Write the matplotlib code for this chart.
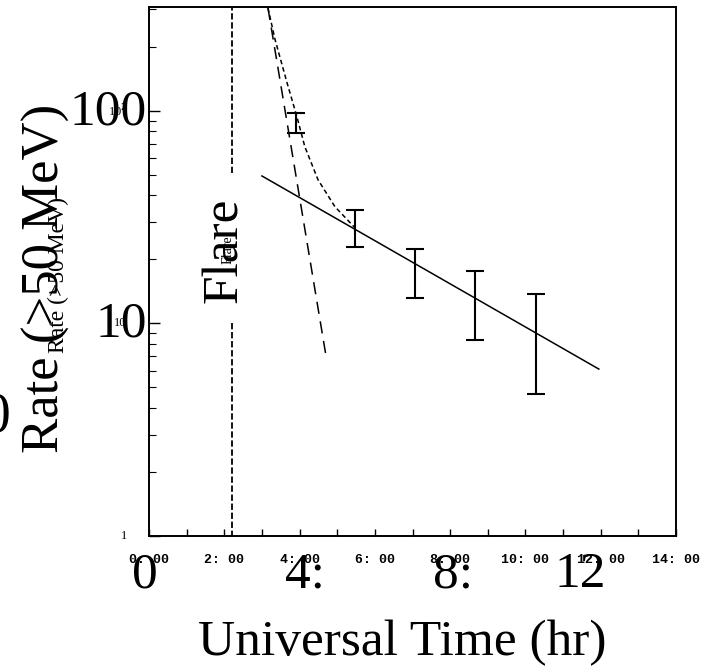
import numpy as np
import matplotlib
matplotlib.use("Agg")
import matplotlib.pyplot as plt
import matplotlib.transforms as mtransforms

# observed proton rates (>50 MeV), Universal Time in hours
obs_time = [3.91, 5.48, 7.07, 8.67, 10.29]
obs_rate = [88.0, 27.9, 18.9, 13.0, 9.1]
obs_low = [79.0, 23.0, 13.2, 8.4, 4.65]
obs_high = [98.0, 34.3, 22.5, 17.7, 13.8]

# slow (solid) decay fit
slow_time = [3.0, 11.95]
slow_rate = [49.4, 6.1]

# fast (long dash) decay component
fast_time = [3.16, 4.71]
fast_rate = [305.0, 6.9]

# sum of both components (short dash)
sum_time = [3.16, 3.35, 3.67, 3.93, 4.14, 4.49, 4.94, 5.47]
sum_rate = [305.0, 216.0, 135.0, 93.7, 67.8, 47.4, 35.4, 28.2]

# flare onset marker (dashed vertical, broken around the label)
flare_time = 2.2
flare_upper = [51.0, 320.0]
flare_lower = [0.9, 10.1]

xtick_hours = list(range(0, 15))
xtick_text = ["%d: 00" % h if h % 2 == 0 else "" for h in xtick_hours]
big_xlabels = ["0", "4:", "8:", "12"]
big_xpos = [-0.1, 4.15, 8.07, 11.45]
big_ylabels = ["100", "10"]
big_yvals = [100, 10]
small_ylabels = ["1", "10", "10$^2$"]
small_yvals = [1, 10, 100]

serif = "Liberation Serif"
mono = "Liberation Mono"

fig = plt.figure(figsize=(7.25, 6.66), dpi=100)
ax = fig.add_axes([149 / 725, 1 - 536 / 666, 527 / 725, 529 / 666])
ax.set_yscale("log")
ax.set_xlim(0, 14)
ax.set_ylim(1, 308)

ax.plot([flare_time, flare_time], flare_upper, color="black", lw=1.3, dashes=(3.5, 1.5))
ax.plot([flare_time, flare_time], flare_lower, color="black", lw=1.3, dashes=(3.5, 1.5))

ax.plot(slow_time, slow_rate, color="black", lw=1.1)
ax.plot(fast_time, fast_rate, color="black", lw=1.1, dashes=(8, 5))
ax.plot(sum_time, sum_rate, color="black", lw=1.1, dashes=(3, 2))

yerr = [np.array(obs_rate) - np.array(obs_low), np.array(obs_high) - np.array(obs_rate)]
ax.errorbar(obs_time, obs_rate, yerr=yerr, fmt="none", ecolor="black",
            elinewidth=1.5, capsize=6.5, capthick=1.5)

for s in ax.spines.values():
    s.set_linewidth(1.4)

ax.set_xticks(xtick_hours)
ax.set_xticklabels(xtick_text, fontfamily=mono, fontweight="bold", fontsize=9.5)
ax.tick_params(axis="x", direction="in", length=5, width=1, pad=13, top=False)
ax.tick_params(axis="y", which="major", direction="in", length=8, width=1, right=False)
ax.tick_params(axis="y", which="minor", direction="in", length=5, width=0.8, right=False)
ax.yaxis.set_minor_formatter(matplotlib.ticker.NullFormatter())
ax.yaxis.set_major_formatter(matplotlib.ticker.NullFormatter())

# small labels from the original scan
for lab, v in zip(small_ylabels, small_yvals):
    ax.annotate(lab, xy=(0, v), xycoords=("axes fraction", "data"),
                xytext=(-16, 0), textcoords="offset points",
                ha="right", va="center", fontsize=9, fontfamily=serif)

# large overlaid labels
for lab, v in zip(big_ylabels, big_yvals):
    ax.annotate(lab, xy=(0, v), xycoords=("axes fraction", "data"),
                xytext=(-1.5, -9.5), textcoords="offset points",
                ha="right", va="baseline", fontsize=37, fontfamily=serif)

trans = mtransforms.blended_transform_factory(ax.transData, fig.transFigure)
for lab, x in zip(big_xlabels, big_xpos):
    fig.text(x, 1 - 587 / 666, lab, transform=trans, ha="center", va="baseline",
             fontsize=37, fontfamily=serif)

fig.text(402 / 725, 11 / 666, "Universal Time (hr)", ha="center", va="baseline",
         fontsize=37, fontfamily=serif)
fig.text(46 / 725, 1 - 278 / 666, "Rate (>50 MeV)", rotation=90, ha="center", va="center",
         fontsize=38, fontfamily=serif)
fig.text(58 / 725, 1 - 275 / 666, "Rate (>50 MeV)", rotation=90, ha="center", va="center",
         fontsize=17, fontfamily=serif)
fig.text(-3 / 725, 1 - 417 / 666, "0", ha="center", va="center",
         fontsize=40, fontfamily=serif)
fig.text(225 / 725, 1 - 250 / 666, "Flare", rotation=90, ha="center", va="center",
         fontsize=37, fontfamily=serif)
fig.text(228 / 725, 1 - 250 / 666, "Flare", rotation=90, ha="center", va="center",
         fontsize=10, fontfamily=serif)

fig.savefig("out.png", dpi=100)
